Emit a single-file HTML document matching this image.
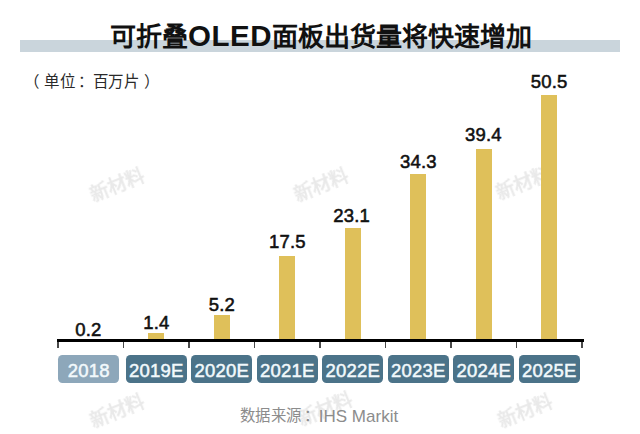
<!DOCTYPE html>
<html lang="zh-CN">
<head>
<meta charset="utf-8">
<style>
html,body{margin:0;padding:0;}
body{width:640px;height:434px;position:relative;overflow:hidden;background:#fff;font-family:"Liberation Sans",sans-serif;}
.abs{position:absolute;}
.lat{font-size:29.5px;letter-spacing:0.5px;position:relative;top:0.4px;}
#band{left:20px;top:40px;width:600px;height:12px;background:#cad5dc;}
#title{left:110px;top:21px;font-size:26px;font-weight:bold;color:#111;white-space:nowrap;line-height:30px;}
#unit{left:0;top:71.6px;font-size:15.5px;color:#2a2a2a;white-space:nowrap;line-height:20px;}
#unit span,#src span{position:absolute;top:0;}
#axis{left:57px;top:339px;width:526.5px;height:3px;background:#000;}
.tick{top:342px;width:1.8px;height:6px;background:#4a4a4a;}
.bar{width:16px;background:#dfc05a;}
.lbl{width:60px;text-align:center;font-size:18.5px;color:#111;-webkit-text-stroke:0.55px #111;white-space:nowrap;line-height:18px;letter-spacing:0.2px;}
.cat{top:355px;width:61px;height:27.5px;border-radius:4.5px;background:#4b7389;color:#f2f9fc;font-size:18.5px;-webkit-text-stroke:0.5px #f2f9fc;text-align:center;line-height:32.5px;letter-spacing:0.2px;padding-left:0.2px;box-sizing:border-box;}
.cat.first{background:#8da7ba;}
#src{left:0;top:406.4px;font-size:15.4px;color:#8c8c8c;white-space:nowrap;line-height:20px;}
.wm{font-size:19px;color:#e9e9e9;transform:rotate(-22deg);white-space:nowrap;font-weight:bold;filter:blur(0.6px);}
</style>
</head>
<body>
<div class="abs wm" style="left:88px;top:170px;">新材料</div>
<div class="abs wm" style="left:292px;top:170px;">新材料</div>
<div class="abs wm" style="left:494px;top:168px;">新材料</div>
<div class="abs wm" style="left:88px;top:396px;">新材料</div>
<div class="abs wm" style="left:296px;top:394px;">新材料</div>
<div class="abs wm" style="left:496px;top:396px;">新材料</div>

<div id="band" class="abs"></div>
<div id="title" class="abs">可折叠<span class="lat">OLED</span>面板出货量将快速增加</div>
<div id="unit" class="abs"><span style="left:23.8px">（</span><span style="left:43.5px">单</span><span style="left:59.5px">位</span><span style="left:77.8px">：</span><span style="left:93px">百</span><span style="left:107.8px">万</span><span style="left:123.7px">片</span><span style="left:144.4px">）</span></div>

<div class="abs bar" style="left:148.25px;top:333.4px;height:5.6px;"></div>
<div class="abs bar" style="left:213.75px;top:314.6px;height:24.4px;"></div>
<div class="abs bar" style="left:279.25px;top:255.9px;height:83.1px;"></div>
<div class="abs bar" style="left:344.75px;top:228px;height:111px;"></div>
<div class="abs bar" style="left:410.25px;top:174.2px;height:164.8px;"></div>
<div class="abs bar" style="left:475.75px;top:149.1px;height:189.9px;"></div>
<div class="abs bar" style="left:541.25px;top:95.1px;height:243.9px;"></div>

<div id="axis" class="abs"></div>
<div class="abs tick" style="left:57.00px"></div>
<div class="abs tick" style="left:122.50px"></div>
<div class="abs tick" style="left:188.00px"></div>
<div class="abs tick" style="left:253.50px"></div>
<div class="abs tick" style="left:319.00px"></div>
<div class="abs tick" style="left:384.50px"></div>
<div class="abs tick" style="left:450.00px"></div>
<div class="abs tick" style="left:515.50px"></div>
<div class="abs tick" style="left:581.00px"></div>

<div class="abs lbl" style="left:58.40px;top:320.65px;">0.2</div>
<div class="abs lbl" style="left:126.40px;top:314.10px;">1.4</div>
<div class="abs lbl" style="left:191.85px;top:295.80px;">5.2</div>
<div class="abs lbl" style="left:257.45px;top:233.35px;">17.5</div>
<div class="abs lbl" style="left:321.70px;top:206.80px;">23.1</div>
<div class="abs lbl" style="left:388.35px;top:152.50px;">34.3</div>
<div class="abs lbl" style="left:453.35px;top:126.10px;">39.4</div>
<div class="abs lbl" style="left:519.20px;top:72.50px;">50.5</div>

<div class="abs cat first" style="left:58.25px;">2018</div>
<div class="abs cat" style="left:125.75px;">2019E</div>
<div class="abs cat" style="left:191.25px;">2020E</div>
<div class="abs cat" style="left:256.75px;">2021E</div>
<div class="abs cat" style="left:322.25px;">2022E</div>
<div class="abs cat" style="left:387.75px;">2023E</div>
<div class="abs cat" style="left:453.25px;">2024E</div>
<div class="abs cat" style="left:518.75px;">2025E</div>

<div id="src" class="abs"><span style="left:239.9px">数</span><span style="left:255px">据</span><span style="left:270.8px">来</span><span style="left:286px">源</span><span style="left:303.9px">：</span><span style="left:318.8px;top:0.3px;font-size:17px">IHS Markit</span></div>
</body>
</html>
